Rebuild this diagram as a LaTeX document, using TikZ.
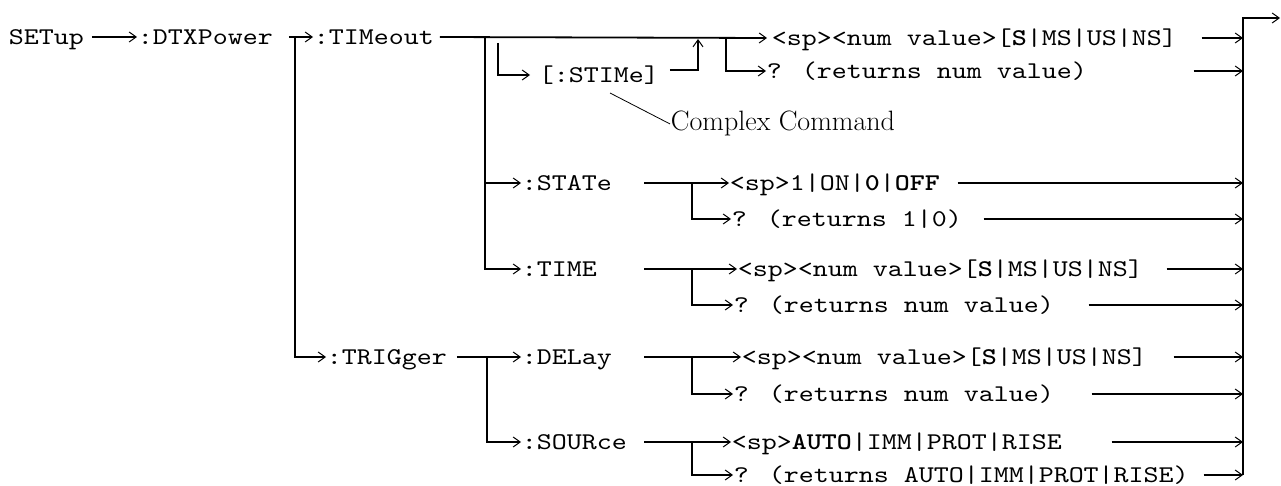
\documentclass[tikz,border=0pt]{standalone}
\usepackage{fontspec}
\newfontfamily\cmdfont{lmmono10-regular}[Extension=.otf, BoldFont=lmmonolt10-bold, FakeStretch=1.19]
\usetikzlibrary{arrows.meta}
\tikzset{
 cmd/.style={font=\cmdfont\fontsize{24}{24}\selectfont, inner sep=0pt, anchor=west, text height=15pt, text depth=0pt},
 note/.style={font=\fontsize{28}{28}\selectfont, inner sep=0pt, anchor=base west},
}
\begin{document}
\begin{tikzpicture}[>={Straight Barb[length=7pt,width=10pt,line width=1pt]}, x=1pt, y=-1pt, line width=1.8pt]
 \useasboundingbox (0,0) rectangle (1281,486);
 \node[cmd] (setup) at (8,37) {SETup};
 \node[cmd] (dtx) at (137,37) {:DTXPower};
 \node[cmd] (timeout) at (313,37) {:TIMeout};
 \node[cmd] (trig) at (326,357) {:TRIGger};
 \node[cmd] (stime) at (538,75) {[:STIMe]};
 \node[cmd] (state) at (521,183) {:STATe};
 \node[cmd] (time) at (521,269) {:TIME};
 \node[cmd] (delay) at (521,357) {:DELay};
 \node[cmd] (source) at (521,442) {:SOURce};
 \node[cmd] (sp1) at (771,38) {<sp><num value>[\textbf{S}|MS|US|NS]};
 \node[cmd] (q1) at (766,71) {? (returns num value)};
 \node[cmd] (stsp) at (729,183) {<sp>1|ON|\textbf{0}|\textbf{OFF}};
 \node[cmd] (stq) at (731,219) {? (returns 1|0)};
 \node[cmd] (tmsp) at (737,269) {<sp><num value>[\textbf{S}|MS|US|NS]};
 \node[cmd] (tmq) at (733,305) {? (returns num value)};
 \node[cmd] (dlsp) at (741,357) {<sp><num value>[\textbf{S}|MS|US|NS]};
 \node[cmd] (dlq) at (733,394) {? (returns num value)};
 \node[cmd] (srsp) at (731,442) {<sp>\textbf{AUTO}|IMM|PROT|RISE};
 \node[cmd] (srq) at (733,475) {? (returns AUTO|IMM|PROT|RISE)};
 \node[note] (cc) at (670,131) {Complex Command};
 \coordinate (dtxbus) at (295,37);
 \coordinate (tbus) at (485,37);
 \coordinate (trbus) at (487,357);
 \coordinate (stbr) at (498,43);
 \coordinate (stup) at (698,39);
 \coordinate (qbr) at (726,38);
 \coordinate (ccpin) at (610,93);
 \coordinate (colB) at (644,0);
 \coordinate (colC) at (692,0);
 \coordinate (rbus) at (1243,18);
 \coordinate (exit) at (1280,18);
 \draw[->] ([xshift=7pt]setup.east) -- (dtx.west);
 \draw[->] ([xshift=15pt]dtx.east) -- (timeout.west);
 \draw[->] (dtxbus) |- (trig.west);
 \draw[->] ([xshift=5pt]timeout.east) -- ([xshift=-4pt]sp1.west);
 \draw[->] (tbus) |- (time.west);
 \draw[->] (tbus |- state) -- (state.west);
 \draw[->] (stbr) |- ([xshift=-8pt]stime.west);
 \draw[->] ([xshift=10pt,yshift=5pt]stime.east) -| (stup);
 \draw[->] (qbr) |- (q1.west);
 \draw[line width=0.8pt] (ccpin) -- (cc.west);
 \draw[->] ([xshift=9pt]trig.east) -- (delay.west);
 \draw[->] (trbus) |- (source.west);
 \draw[->] (colB |- state) -- (stsp.west);
 \draw[->] (colC |- state) |- (stq.west);
 \draw[->] (colB |- time) -- (tmsp.west);
 \draw[->] (colC |- time) |- (tmq.west);
 \draw[->] (colB |- delay) -- (dlsp.west);
 \draw[->] (colC |- delay) |- (dlq.west);
 \draw[->] (colB |- source) -- (srsp.west);
 \draw[->] (colC |- source) |- (srq.west);
 \draw[->] (rbus |- srq) -- (rbus) -- (exit);
 \draw[->] ([xshift=24pt]sp1.east) -- (sp1 -| rbus);
 \draw[->] ([xshift=106pt]q1.east) -- (q1 -| rbus);
 \draw[->] ([xshift=17pt]stsp.east) -- (stsp -| rbus);
 \draw[->] ([xshift=21pt]stq.east) -- (stq -| rbus);
 \draw[->] ([xshift=23pt]tmsp.east) -- (tmsp -| rbus);
 \draw[->] ([xshift=34pt]tmq.east) -- (tmq -| rbus);
 \draw[->] ([xshift=26pt]dlsp.east) -- (dlsp -| rbus);
 \draw[->] ([xshift=37pt]dlq.east) -- (dlq -| rbus);
 \draw[->] ([xshift=49pt]srsp.east) -- (srsp -| rbus);
 \draw[->] ([xshift=14pt]srq.east) -- (srq -| rbus);
\end{tikzpicture}
\end{document}
